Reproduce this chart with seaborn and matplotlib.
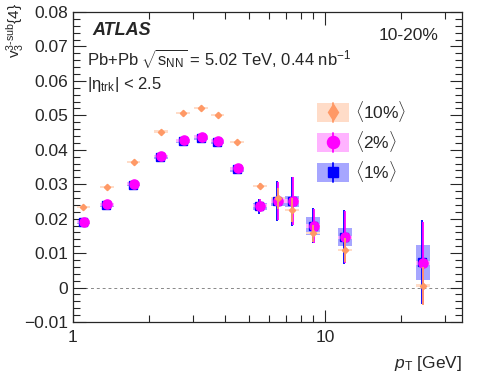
import numpy as np
import matplotlib
matplotlib.use('Agg')
import matplotlib.pyplot as plt
import seaborn as sns
from matplotlib.patches import Rectangle, Patch
from matplotlib.lines import Line2D
from matplotlib.ticker import FixedLocator, NullFormatter, MultipleLocator, FuncFormatter

# --- data ---
pt = [1.1, 1.36, 1.74, 2.23, 2.74, 3.23, 3.75, 4.49, 5.52, 6.49, 7.42, 8.99, 12.0, 24.5]

v_10 = [0.0234, 0.0292, 0.0364, 0.0453, 0.0507, 0.0521, 0.0502, 0.0423, 0.0296, 0.0259, 0.0225, 0.0158, 0.0109, 0.0005]
stat_10 = [0.0002, 0.0002, 0.0003, 0.0003, 0.0004, 0.0004, 0.0005, 0.0006, 0.0008, 0.0030, 0.0034, 0.0025, 0.0034, 0.0055]
syst_10 = [0.0003, 0.0003, 0.0003, 0.0003, 0.0003, 0.0003, 0.0003, 0.0003, 0.0003, 0.0003, 0.0003, 0.0003, 0.0003, 0.0004]

v_2 = [0.0191, 0.0242, 0.0302, 0.0382, 0.0428, 0.0438, 0.0426, 0.0346, 0.0238, 0.0251, 0.0251, 0.0179, 0.0146, 0.0071]
stat_2 = [0.0003, 0.0003, 0.0003, 0.0004, 0.0005, 0.0006, 0.0007, 0.0008, 0.0020, 0.0056, 0.0069, 0.0050, 0.0076, 0.0120]
syst_2 = [0.0004, 0.0004, 0.0004, 0.0004, 0.0004, 0.0004, 0.0004, 0.0004, 0.0005, 0.0005, 0.0005, 0.0005, 0.0005, 0.0005]

v_1 = [0.0189, 0.0240, 0.0299, 0.0379, 0.0425, 0.0435, 0.0423, 0.0343, 0.0236, 0.0250, 0.0250, 0.0180, 0.0147, 0.0073]
stat_1 = [0.0003, 0.0003, 0.0003, 0.0004, 0.0005, 0.0006, 0.0007, 0.0008, 0.0022, 0.0058, 0.0071, 0.0052, 0.0078, 0.0122]
syst_1 = [0.0005, 0.0005, 0.0005, 0.0005, 0.0006, 0.0006, 0.0006, 0.0007, 0.0010, 0.0012, 0.0015, 0.0026, 0.0026, 0.0050]

labels = [r'$\langle$10%$\rangle$', r'$\langle$2%$\rangle$', r'$\langle$1%$\rangle$']

c_or = '#ff9966'
c_mg = '#ff00ff'
c_bl = '#0000ff'
f_or = '#ffdcc8'
f_mg = '#ffb3ff'
f_bl = '#a6a6ff'

sns.set_style('ticks')
plt.rcParams['font.family'] = ['Liberation Sans', 'DejaVu Sans']
plt.rcParams['mathtext.fontset'] = 'custom'
plt.rcParams['mathtext.rm'] = 'Liberation Sans'
plt.rcParams['mathtext.it'] = 'Liberation Sans:italic'
plt.rcParams['mathtext.bf'] = 'Liberation Sans:bold'

fig = plt.figure(figsize=(4.78, 3.79), dpi=100)
ax = fig.add_axes([0.1527, 0.1504, 0.8138, 0.8179])
ax.set_xscale('log')

hw = 1.065  # half width of syst box (multiplicative, log axis)


def boxes(x, y, s, color, z):
    for xi, yi, si in zip(x, y, s):
        ax.add_patch(Rectangle((xi / hw, yi - si), xi * hw - xi / hw, 2 * si,
                               facecolor=color, edgecolor='none', zorder=z))


pt = np.array(pt)
boxes(pt, v_1, syst_1, f_bl, 1)
boxes(pt, v_2, syst_2, f_mg, 1.1)
boxes(pt, v_10, syst_10, f_or, 1.2)

ax.axhline(0, color='#888888', lw=0.7, ls=(0, (3, 3)), zorder=0.5)

ax.errorbar(pt * 0.994, v_1, yerr=stat_1, fmt='s', color=c_bl, ms=5.8, elinewidth=1.3,
            capsize=0, zorder=3)
ax.errorbar(pt * 1.004, v_2, yerr=stat_2, fmt='o', color=c_mg, ms=6.6, elinewidth=1.3,
            capsize=0, zorder=4)
ax.errorbar(pt, v_10, yerr=stat_10, fmt='D', color=c_or, ms=3.2, elinewidth=1.3,
            capsize=0, zorder=5)

ax.set_xlim(1, 35)
ax.set_ylim(-0.01, 0.08)

ax.xaxis.set_major_locator(FixedLocator([1, 10]))
ax.xaxis.set_minor_locator(FixedLocator([2, 3, 4, 5, 6, 7, 8, 9, 20, 30]))
ax.xaxis.set_minor_formatter(NullFormatter())
ax.xaxis.set_major_formatter(FuncFormatter(lambda v, p: '%g' % v))
ax.yaxis.set_major_locator(MultipleLocator(0.01))
ax.yaxis.set_minor_locator(MultipleLocator(0.002))


def yfmt(v, p):
    if abs(v) < 1e-9:
        return '0'
    s = '%.2f' % v
    return s.replace('-', '\u2212')


ax.yaxis.set_major_formatter(FuncFormatter(yfmt))
ax.tick_params(which='both', direction='in', top=True, right=True, labelsize=12.5, width=0.8)
ax.tick_params(which='major', length=9)
ax.tick_params(which='minor', length=5)
ax.tick_params(axis='x', which='major', pad=6)
for sp in ax.spines.values():
    sp.set_linewidth(0.9)

ax.set_xlabel(r'$p_{\mathrm{T}}$ [GeV]', fontsize=12.5, loc='right', labelpad=6)
ax.set_ylabel(r'$\mathrm{v}_3^{\mathrm{3\text{-}sub}}\{4\}$', fontsize=11)
ax.yaxis.set_label_coords(-0.12, 1.03)
ax.yaxis.label.set_horizontalalignment('right')

ax.text(0.05, 0.941, 'ATLAS', transform=ax.transAxes, fontsize=13, fontweight='bold',
        fontstyle='italic', va='center')
ax.text(0.785, 0.924, '10-20%', transform=ax.transAxes, fontsize=12.5, va='center')
ax.text(0.036, 0.85, r'Pb+Pb $\sqrt{\mathrm{s}_{\mathrm{NN}}}$ = 5.02 TeV, 0.44 nb$^{-1}$',
        transform=ax.transAxes, fontsize=12, va='center')
ax.text(0.036, 0.766, r'|η$_{\mathrm{trk}}$| < 2.5', transform=ax.transAxes,
        fontsize=12, va='center')

h10 = (Patch(facecolor=f_or, edgecolor='none'),
       Line2D([], [], color=c_or, marker='d', ms=8, lw=1.3))
h2 = (Patch(facecolor=f_mg, edgecolor='none'),
      Line2D([], [], color=c_mg, marker='o', ms=8.7, lw=1.3))
h1 = (Patch(facecolor=f_bl, edgecolor='none'),
      Line2D([], [], color=c_bl, marker='s', ms=7.2, lw=1.3))


class BoxHandler:
    # light box + vertical error line + marker, like the ROOT legend entries
    def legend_artist(self, legend, orig, fontsize, handlebox):
        patch, line = orig
        x0, y0 = handlebox.xdescent, handlebox.ydescent
        w, h = handlebox.width, handlebox.height
        tr = handlebox.get_transform()
        r = Rectangle((-x0, -y0), w, h, facecolor=patch.get_facecolor(), edgecolor='none',
                      transform=tr)
        handlebox.add_artist(r)
        handlebox.add_artist(Line2D([-x0 + w / 2] * 2, [-y0, -y0 + h], color=line.get_color(),
                                    lw=1.3, transform=tr))
        handlebox.add_artist(Line2D([-x0 + w / 2], [-y0 + h / 2], color=line.get_color(),
                                    marker=line.get_marker(), ms=line.get_markersize(),
                                    ls='none', transform=tr))
        return r


leg = ax.legend([h10, h2, h1], labels, handler_map={tuple: BoxHandler()}, loc='upper left',
                bbox_to_anchor=(0.587, 0.771), frameon=False, fontsize=12.5,
                handlelength=1.85, handleheight=1.32, labelspacing=0.29, handletextpad=0.35)

fig.savefig('out.png', dpi=100)
